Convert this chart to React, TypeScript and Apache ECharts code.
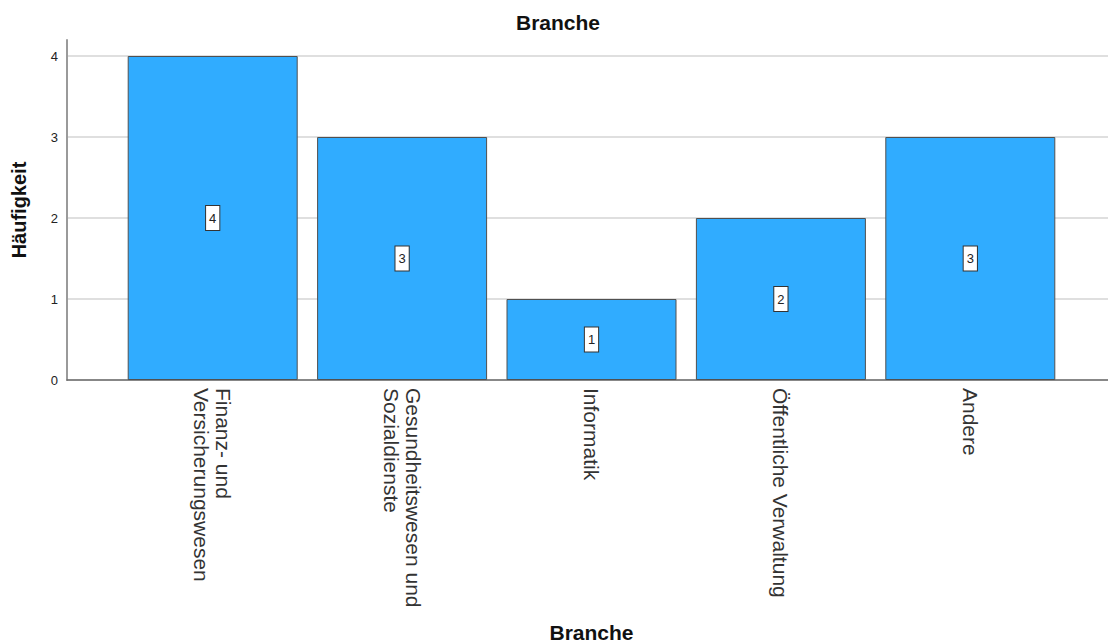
import React, { useEffect, useRef } from "react";
import * as echarts from "echarts";

// Häufigkeiten je Branche
const categories = [
  "Finanz- und\nVersicherungswesen",
  "Gesundheitswesen und\nSozialdienste",
  "Informatik",
  "Öffentliche Verwaltung",
  "Andere",
];
const counts = [4, 3, 1, 2, 3];
const chartTitle = "Branche";
const xAxisTitle = "Branche";
const yAxisTitle = "Häufigkeit";

const FONT = "'Liberation Sans', Arial, sans-serif";

export default function App() {
  const ref = useRef<HTMLDivElement>(null);

  useEffect(() => {
    if (!ref.current) return;
    const chart = echarts.init(ref.current, undefined, { renderer: "svg" });

    const plotTop = 56;
    const plotBottom = 644 - 380;
    const gridBase = { containLabel: false, outerBoundsMode: "none" };

    chart.setOption({
      animation: false,
      backgroundColor: "#ffffff",
      textStyle: { fontFamily: FONT },
      title: {
        text: chartTitle,
        left: 511,
        top: 7,
        textStyle: { fontFamily: FONT, fontSize: 21, fontWeight: "bold", color: "#111" },
      },
      grid: [
        // outer frame: left axis line that reaches above the top tick
        { ...gridBase, left: 67, right: 0, top: 40, bottom: plotBottom },
        // value scale: ticks, labels and horizontal grid lines
        { ...gridBase, left: 67, right: 0, top: plotTop, bottom: plotBottom },
        // bars
        { ...gridBase, left: 118, width: 947, top: plotTop, bottom: plotBottom },
      ],
      xAxis: [
        { gridIndex: 0, type: "value", show: false },
        {
          gridIndex: 1,
          type: "value",
          min: 0,
          max: 1,
          axisLine: { show: true, lineStyle: { color: "#6b6b6b", width: 1.5 } },
          axisTick: { show: false },
          axisLabel: { show: false },
          splitLine: { show: false },
        },
        {
          gridIndex: 2,
          type: "category",
          data: categories,
          axisLine: { show: false },
          axisTick: { show: false },
          axisLabel: {
            rotate: -90,
            margin: 8,
            fontFamily: FONT,
            fontSize: 21,
            lineHeight: 22,
            color: "#333",
            interval: 0,
          },
          name: xAxisTitle,
          nameLocation: "middle",
          nameGap: 242,
          nameTextStyle: { fontFamily: FONT, fontSize: 21, fontWeight: "bold", color: "#111" },
        },
      ],
      yAxis: [
        {
          gridIndex: 0,
          type: "value",
          min: 0,
          max: 4.2,
          axisLine: { show: true, lineStyle: { color: "#9a9a9a", width: 2 } },
          axisTick: { show: false },
          axisLabel: { show: false },
          splitLine: { show: false },
          name: yAxisTitle,
          nameLocation: "middle",
          nameRotate: 90,
          nameGap: 38,
          nameTextStyle: { fontFamily: FONT, fontSize: 20, fontWeight: "bold", color: "#111" },
        },
        {
          gridIndex: 1,
          type: "value",
          min: 0,
          max: 4,
          interval: 1,
          axisLine: { show: false },
          axisTick: { show: false },
          axisLabel: { margin: 9, fontFamily: FONT, fontSize: 13, color: "#222" },
          splitLine: { show: true, lineStyle: { color: "#d4d4d4", width: 1.5 } },
        },
        { gridIndex: 2, type: "value", min: 0, max: 4, show: false },
      ],
      series: [
        {
          type: "bar",
          xAxisIndex: 2,
          yAxisIndex: 2,
          data: counts,
          barWidth: 170,
          itemStyle: { color: "#30acff", borderColor: "#505050", borderWidth: 1 },
          label: {
            show: true,
            position: "inside",
            fontFamily: FONT,
            fontSize: 13,
            lineHeight: 14,
            color: "#222",
            backgroundColor: "#ffffff",
            borderColor: "#333",
            borderWidth: 1,
            padding: [5, 3],
          },
        },
      ],
    });

    return () => chart.dispose();
  }, []);

  return (
    <div
      ref={ref}
      style={{ position: "fixed", left: 0, top: 0, width: 1108, height: 644 }}
    />
  );
}
